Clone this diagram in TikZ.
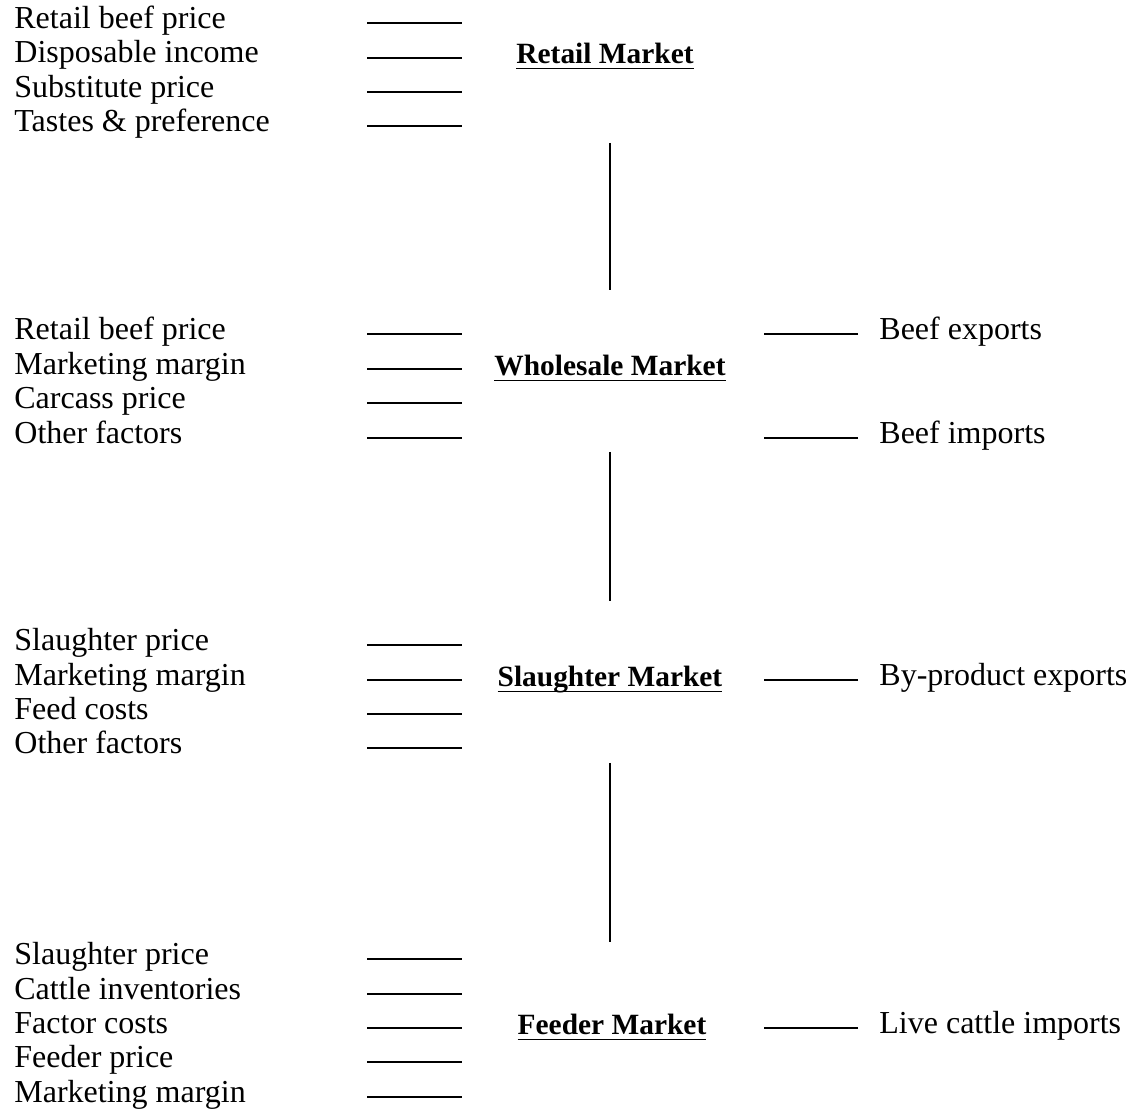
\documentclass[tikz,border=0pt]{standalone}
\usepackage{fontspec}
\setmainfont{Liberation Serif}
\usepackage{tikz}

% underlined market name, the rule a little below the baseline
\newcommand{\mkt}[1]{\setbox0=\hbox{#1}\rlap{\copy0}\rule[-3.2pt]{\wd0}{0.9pt}}

\tikzset{
  factor/.style={anchor=base west, inner sep=0pt, font=\fontsize{16}{19}\selectfont},
  market/.style={anchor=base, inner sep=0pt, font=\fontsize{14.7}{18}\selectfont\bfseries},
  leader/.style={line width=0.9pt},
  link/.style={line width=1.2pt},
}

\begin{document}
\begin{tikzpicture}[x=0.5pt,y=-0.5pt]
	\useasboundingbox (0,0) rectangle (1131,1114);

	% retail market
	\node[factor] (r1) at (14,28)  {Retail beef price};
	\node[factor] (r2) at (14,62)  {Disposable income};
	\node[factor] (r3) at (14,97)  {Substitute price};
	\node[factor] (r4) at (14,131) {Tastes \& preference};
	\node[market] (retail) at (605,63) {\mkt{Retail Market}};

	\draw[leader] (367,23)  -- (462,23);
	\draw[leader] (367,58)  -- (462,58);
	\draw[leader] (367,92)  -- (462,92);
	\draw[leader] (367,126) -- (462,126);

	% wholesale market
	\node[factor] (w1) at (14,339) {Retail beef price};
	\node[factor] (w2) at (14,374) {Marketing margin};
	\node[factor] (w3) at (14,408) {Carcass price};
	\node[factor] (w4) at (14,443) {Other factors};
	\node[market] (wholesale) at (610,375) {\mkt{Wholesale Market}};
	\node[factor] (bexp) at (879,339) {Beef exports};
	\node[factor] (bimp) at (879,443) {Beef imports};

	\draw[leader] (367,334) -- (462,334);
	\draw[leader] (367,369) -- (462,369);
	\draw[leader] (367,403) -- (462,403);
	\draw[leader] (367,438) -- (462,438);
	\draw[leader] (bexp.base west) ++(-21,-5) -- ++(-94,0);
	\draw[leader] (bimp.base west) ++(-21,-5) -- ++(-94,0);

	% slaughter market
	\node[factor] (s1) at (14,650) {Slaughter price};
	\node[factor] (s2) at (14,685) {Marketing margin};
	\node[factor] (s3) at (14,719) {Feed costs};
	\node[factor] (s4) at (14,753) {Other factors};
	\node[market] (slaughter) at (610,686) {\mkt{Slaughter Market}};
	\node[factor] (byp) at (879,685) {By-product exports};

	\draw[leader] (367,645) -- (462,645);
	\draw[leader] (367,680) -- (462,680);
	\draw[leader] (367,714) -- (462,714);
	\draw[leader] (367,748) -- (462,748);
	\draw[leader] (byp.base west) ++(-21,-5) -- ++(-94,0);

	% feeder market
	\node[factor] (f1) at (14,964)  {Slaughter price};
	\node[factor] (f2) at (14,999)  {Cattle inventories};
	\node[factor] (f3) at (14,1033) {Factor costs};
	\node[factor] (f4) at (14,1067) {Feeder price};
	\node[factor] (f5) at (14,1102) {Marketing margin};
	\node[market] (feeder) at (612,1034) {\mkt{Feeder Market}};
	\node[factor] (lci) at (879,1033) {Live cattle imports};

	\draw[leader] (367,959)  -- (462,959);
	\draw[leader] (367,994)  -- (462,994);
	\draw[leader] (367,1028) -- (462,1028);
	\draw[leader] (367,1062) -- (462,1062);
	\draw[leader] (367,1097) -- (462,1097);
	\draw[leader] (lci.base west) ++(-21,-5) -- ++(-94,0);

	% links between the markets
	\draw[link, shorten <=36.5pt, shorten >=32pt] (retail.south -| wholesale) -- (wholesale.north);
	\draw[link, shorten <=35pt, shorten >=32pt] (wholesale.south) -- (slaughter.north);
	\draw[link, shorten <=35pt, shorten >=35.5pt] (slaughter.south) -- (feeder.north -| slaughter);
\end{tikzpicture}
\end{document}
